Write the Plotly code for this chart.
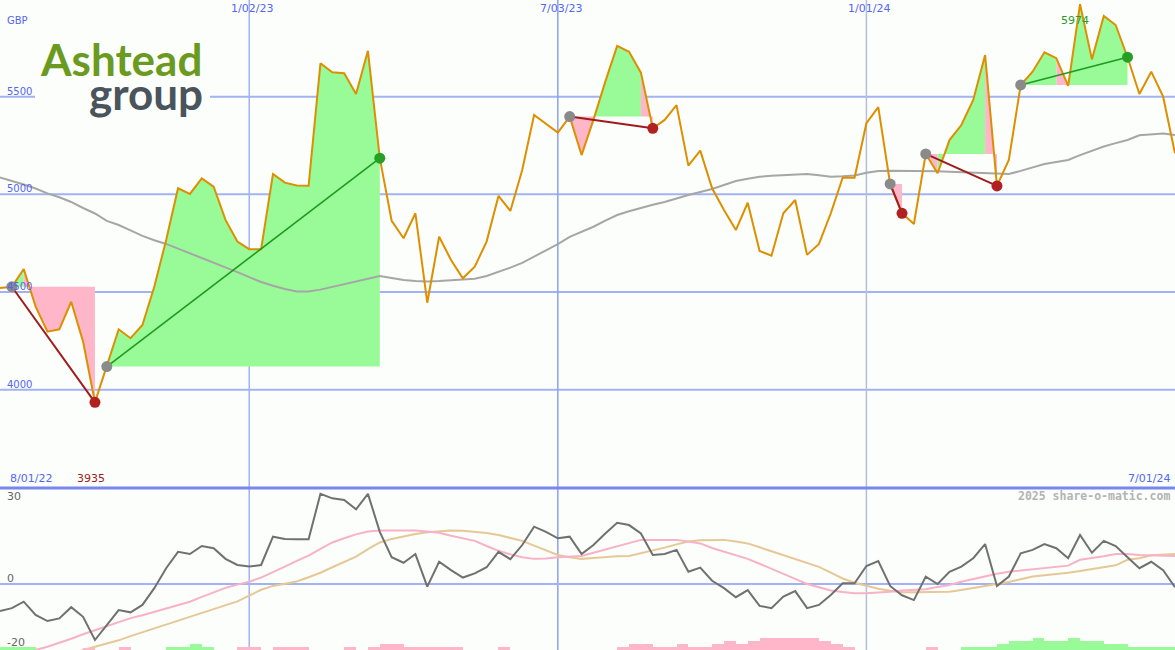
import plotly.graph_objects as go
import pandas as pd

# ---------------- data ----------------
dates = pd.date_range("2022-08-08", periods=100, freq="7D")

price = [4520, 4527, 4618, 4425, 4297, 4309, 4450, 4246, 3935, 4118,
         4309, 4263, 4331, 4527, 4766, 5031, 5002, 5082, 5039, 4869,
         4758, 4719, 4719, 5104, 5060, 5045, 5044, 5671, 5625, 5620,
         5514, 5735, 5185, 4864, 4775, 4903, 4445, 4783, 4664, 4570,
         4630, 4758, 4992, 4915, 5125, 5406, 5361, 5316, 5398, 5201,
         5381, 5577, 5760, 5730, 5623, 5338, 5381, 5457, 5147, 5224,
         5031, 4920, 4817, 4957, 4710, 4686, 4903, 4971, 4690, 4746,
         4903, 5085, 5085, 5364, 5446, 5053, 4903, 4848, 5207, 5108,
         5278, 5355, 5483, 5713, 5043, 5176, 5560, 5628, 5727, 5697,
         5555, 5974, 5691, 5913, 5867, 5702, 5514, 5628, 5500, 5210]

ma = [5087, 5070, 5050, 5030, 5005, 4985, 4961, 4930, 4902, 4864,
      4843, 4815, 4787, 4765, 4746, 4722, 4698, 4676, 4654, 4628,
      4602, 4576, 4551, 4532, 4515, 4503, 4502, 4512, 4526, 4540,
      4553, 4568, 4582, 4572, 4561, 4556, 4554, 4556, 4561, 4564,
      4568, 4582, 4602, 4625, 4649, 4680, 4710, 4745, 4782, 4808,
      4834, 4865, 4894, 4913, 4932, 4947, 4961, 4980, 4997, 5012,
      5027, 5048, 5068, 5080, 5090, 5095, 5099, 5102, 5104, 5098,
      5090, 5092, 5097, 5110, 5120, 5121, 5121, 5120, 5120, 5118,
      5115, 5113, 5111, 5109, 5107, 5104, 5120, 5138, 5155, 5165,
      5176, 5201, 5225, 5245, 5262, 5278, 5302, 5308, 5312, 5304]

momentum = [-8.4, -7.5, -5.5, -9.6, -11.5, -10.7, -7.2, -10.2, -17.4, -12.7,
            -8.1, -8.8, -6.5, -1.3, 4.9, 10.0, 9.3, 11.8, 11.1, 7.8,
            5.9, 5.4, 5.9, 14.7, 14.0, 13.9, 13.9, 28.0, 26.6, 26.1,
            23.2, 28.0, 16.2, 8.3, 6.6, 9.3, -0.8, 6.9, 4.3, 2.0,
            3.3, 5.2, 10.0, 7.7, 12.1, 17.8, 16.2, 14.2, 14.7, 9.3,
            12.1, 15.7, 19.0, 18.3, 15.7, 9.0, 9.3, 10.6, 3.8, 5.1,
            1.0, -1.3, -4.1, -1.9, -6.8, -7.5, -3.9, -2.2, -7.5, -6.5,
            -3.4, 0.2, 0.2, 5.6, 7.1, -0.6, -3.5, -5.0, 2.3, 0.0,
            3.8, 5.4, 8.0, 12.4, -0.6, 2.3, 9.5, 10.6, 12.4, 11.1,
            8.0, 15.2, 9.7, 13.4, 11.8, 8.3, 4.9, 6.9, 4.3, -1.0]

signal_fast = [-26.0, -24.5, -22.5, -20.5, -19.5, -18.3, -17.0, -15.6, -14.3, -13.0,
               -11.7, -10.6, -9.7, -8.7, -7.6, -6.6, -5.5, -4.0, -2.5, -1.2,
               -0.2, 0.7, 2.0, 3.6, 5.4, 7.2, 8.8, 10.9, 12.9, 14.2,
               15.4, 16.3, 16.6, 16.6, 16.6, 16.6, 16.3, 15.9, 15.0, 14.2,
               13.4, 11.8, 10.3, 9.2, 8.3, 7.8, 7.9, 8.3, 8.5, 8.7,
               9.7, 10.7, 11.8, 12.8, 13.7, 13.7, 13.7, 13.7, 13.2, 12.6,
               11.2, 10.0, 8.9, 7.8, 6.3, 4.8, 3.3, 1.6, 0.0, -1.0,
               -2.0, -2.5, -2.9, -2.9, -2.7, -2.4, -2.0, -1.8, -1.6, -0.9,
               -0.3, 0.7, 1.6, 2.5, 3.2, 3.8, 4.2, 4.5, 4.9, 5.3,
               5.7, 7.5, 8.0, 8.6, 9.3, 9.3, 9.0, 8.9, 8.8, 8.7]

signal_slow = [-30.0, -29.0, -28.0, -26.5, -25.0, -23.5, -22.0, -20.5, -19.5, -18.5,
               -17.5, -16.2, -15.0, -13.8, -12.6, -11.5, -10.4, -9.2, -7.9, -6.6,
               -5.4, -3.6, -1.8, -0.6, 0.1, 0.8, 2.1, 3.5, 5.2, 6.9,
               8.5, 10.8, 12.9, 14.0, 14.8, 15.5, 16.1, 16.4, 16.6, 16.5,
               16.2, 15.8, 15.2, 14.4, 13.4, 11.9, 10.4, 9.0, 8.3, 7.8,
               8.1, 8.4, 8.6, 8.7, 9.5, 10.4, 11.3, 12.3, 13.2, 13.6,
               13.7, 13.7, 13.2, 12.6, 11.4, 10.2, 9.0, 7.9, 6.6, 5.3,
               3.5, 1.7, 0.4, -0.6, -1.5, -2.1, -2.6, -2.6, -2.5, -2.5,
               -2.4, -1.9, -1.3, -0.8, -0.1, 0.6, 1.5, 2.3, 2.7, 3.0,
               3.5, 4.0, 4.6, 5.2, 5.8, 7.5, 8.0, 8.9, 9.2, 9.3]

histogram = [1, 1, 1, 0, 0, 0, 0, -0.8, 0, 0,
             -1, 0, 0, 0, 1, 1, 2, 1, 0, 0,
             -1, -1, 0, -1, -1, -1, 0, 0, 0, -1,
             0, -1, -2, -2, -1, -1, -1, -1, -1, 0,
             0, 0, -1, 0, 0, 0, 0, 0, 0, 0,
             0, 0, -1, -2, -2, -1, -1, -2, -1, -1,
             -2, -3, -2, -3, -4, -4, -4, -4, -4, -3,
             -2, -1, 0, 0, 0, 0, 0, 0, -1, 0,
             0, 1, 1, 1, 2, 3, 3, 4, 3, 3,
             4, 3, 3, 2, 2, 1, 1, 1, 1, 0]

swing_start = [1, 9, 48, 75, 78, 86]
swing_end = [8, 32, 55, 76, 84, 95]

price_ticks = [4000, 4500, 5000, 5500]
date_ticks = ["2023-01-02", "2023-07-03", "2024-01-01"]
date_tick_labels = ["1/02/23", "7/03/23", "1/01/24"]
osc_ticks = [30, 0, -20]
osc_tick_px = [496, 578, 642]

# ---------------- style ----------------
W, H = 1175, 650
BG = "#fbfefb"
GRID = "#a3b2f2"
BLUE_TXT = "#5566ee"
GREEN_FILL = "#98fb98"
PINK_FILL = "#ffb6c8"
ORANGE = "#dd8f00"
FONT = "DejaVu Sans"


def px(x):
    return x / W


def py(y):
    return 1 - y / H


fig = go.Figure()

# swing fills
for s, e in zip(swing_start, swing_end):
    level = price[s]
    runs = []
    cur = None
    rs = s
    for k in range(s, e):
        col = PINK_FILL if price[k + 1] < level else GREEN_FILL
        if cur is None:
            cur, rs = col, k
        elif col != cur:
            runs.append((rs, k, cur))
            cur, rs = col, k
    runs.append((rs, e, cur))
    for a, b, col in runs:
        xs = [dates[a]] + list(dates[a:b + 1]) + [dates[b], dates[a]]
        ys = [level] + price[a:b + 1] + [level, level]
        fig.add_trace(go.Scatter(x=xs, y=ys, mode="lines", fill="toself",
                                 fillcolor=col, line=dict(width=0),
                                 hoverinfo="skip", xaxis="x", yaxis="y"))

# moving average
fig.add_trace(go.Scatter(x=dates, y=ma, mode="lines",
                         line=dict(color="#a6a6a6", width=2), xaxis="x", yaxis="y"))
# price
fig.add_trace(go.Scatter(x=dates, y=price, mode="lines",
                         line=dict(color=ORANGE, width=2), xaxis="x", yaxis="y"))

# swing lines and dots
for s, e in zip(swing_start, swing_end):
    up = price[e] > price[s]
    lc = "#1f9a1f" if up else "#a01c1c"
    fig.add_trace(go.Scatter(x=[dates[s], dates[e]], y=[price[s], price[e]], mode="lines",
                             line=dict(color=lc, width=1.6 if up else 2),
                             xaxis="x", yaxis="y"))
    fig.add_trace(go.Scatter(x=[dates[s]], y=[price[s]], mode="markers",
                             marker=dict(color="#8a8a8a", size=11, line=dict(width=0)),
                             xaxis="x", yaxis="y"))
    fig.add_trace(go.Scatter(x=[dates[e]], y=[price[e]], mode="markers",
                             marker=dict(color="#25a025" if up else "#b02222", size=11,
                                         line=dict(width=0)),
                             xaxis="x", yaxis="y"))

# bottom panel: histogram
fig.add_trace(go.Bar(x=dates, y=[abs(v) for v in histogram],
                     marker=dict(color=[GREEN_FILL if v > 0 else PINK_FILL for v in histogram],
                                 line=dict(width=0)),
                     width=[7 * 24 * 3600 * 1000] * len(dates), offset=0,
                     xaxis="x2", yaxis="y3"))
fig.add_trace(go.Scatter(x=dates, y=signal_slow, mode="lines",
                         line=dict(color="#e6c896", width=2), xaxis="x2", yaxis="y2"))
fig.add_trace(go.Scatter(x=dates, y=signal_fast, mode="lines",
                         line=dict(color="#f7b2c8", width=2), xaxis="x2", yaxis="y2"))
fig.add_trace(go.Scatter(x=dates, y=momentum, mode="lines",
                         line=dict(color="#707070", width=2), xaxis="x2", yaxis="y2"))

shapes = []
# horizontal price gridlines
for v in price_ticks:
    shapes.append(dict(type="line", xref="paper", yref="y", x0=0, x1=1, y0=v, y1=v,
                       line=dict(color=GRID, width=2), layer="below"))
# vertical date gridlines
for d, c in zip(date_ticks, [GRID, "#8f9ff0", "#b7bed8"]):
    shapes.append(dict(type="line", xref="x", yref="paper", x0=d, x1=d, y0=0, y1=1,
                       line=dict(color=c, width=1.5), layer="below"))
# oscillator zero line
shapes.append(dict(type="line", xref="paper", yref="y2", x0=0, x1=1, y0=0, y1=0,
                   line=dict(color=GRID, width=2), layer="below"))
# panel separator
shapes.append(dict(type="line", xref="paper", yref="paper", x0=0, x1=1,
                   y0=py(488), y1=py(488), line=dict(color="#7886ee", width=3), layer="above"))
# logo backdrop
shapes.append(dict(type="rect", xref="paper", yref="paper", x0=px(35), x1=px(210),
                   y0=py(112), y1=py(34), fillcolor=BG, line=dict(width=0), layer="below"))

ann = []


def label(text, x, y, color=BLUE_TXT, size=10, xanchor="left", family=FONT, **kw):
    ann.append(dict(text=text, x=px(x), y=py(y), xref="paper", yref="paper",
                    xanchor=xanchor, yanchor="middle", showarrow=False,
                    font=dict(color=color, size=size, family=family), **kw))


label("GBP", 5, 20)
for v in price_ticks:
    ann.append(dict(text=str(v), x=px(5), y=v, xref="paper", yref="y", xanchor="left",
                    yanchor="bottom", yshift=-2, showarrow=False,
                    font=dict(color=BLUE_TXT, size=10, family=FONT)))
for d, t in zip(date_ticks, date_tick_labels):
    ann.append(dict(text=t, x=d, y=py(8), xref="x", yref="paper", xanchor="center",
                    yanchor="middle", xshift=3, showarrow=False,
                    font=dict(color=BLUE_TXT, size=11, family=FONT)))
label("8/01/22", 8, 478, size=11)
label("7/01/24", 1172, 478, size=11, xanchor="right")

imin = price.index(min(price))
imax = price.index(max(price))
ann.append(dict(text=str(min(price)), x=dates[imin], y=py(478), xref="x", yref="paper",
                xanchor="center", yanchor="middle", xshift=-4, showarrow=False,
                font=dict(color="#a01c1c", size=11, family=FONT)))
ann.append(dict(text=str(max(price)), x=dates[imax], y=py(20), xref="x", yref="paper",
                xanchor="center", yanchor="middle", xshift=-5, showarrow=False,
                font=dict(color="#2a9a2a", size=11, family=FONT)))

for v, ypx in zip(osc_ticks, osc_tick_px):
    label(str(v), 5, ypx, color="#666666", size=11)

label("<b>2025 share-o-matic.com</b>", 1172, 496, color="#b4b4b4", size=11.5,
      xanchor="right", family="DejaVu Sans Mono")

# logo text
label("<b>Ashtead</b>", 38, 59, color="#6b9a20", size=44, family="Lato")
label("<b>group</b>", 87, 93, color="#4a545d", size=44, family="Lato")

fig.update_layout(
    width=W, height=H,
    margin=dict(l=0, r=0, t=0, b=0),
    paper_bgcolor=BG, plot_bgcolor=BG,
    showlegend=False,
    bargap=0,
    xaxis=dict(domain=[0, 1], anchor="y", range=[dates[0], dates[-1]],
               showgrid=False, zeroline=False, showticklabels=False, showline=False),
    xaxis2=dict(domain=[0, 1], anchor="y2", matches="x", range=[dates[0], dates[-1]],
                showgrid=False, zeroline=False, showticklabels=False, showline=False),
    yaxis=dict(domain=[1 - 487 / H, 1], range=[3501.5, 5995], showgrid=False,
               zeroline=False, showticklabels=False),
    yaxis2=dict(domain=[0, 1 - 489 / H], range=[-20.5, 29.5], showgrid=False,
                zeroline=False, showticklabels=False),
    yaxis3=dict(domain=[0, 1 - 489 / H], overlaying="y2", range=[0, 52], showgrid=False,
                zeroline=False, showticklabels=False, anchor="x2"),
    shapes=shapes,
    annotations=ann,
)

fig.write_html("out.html", config={"displayModeBar": False},
               post_script="document.body.style.margin='0';")
